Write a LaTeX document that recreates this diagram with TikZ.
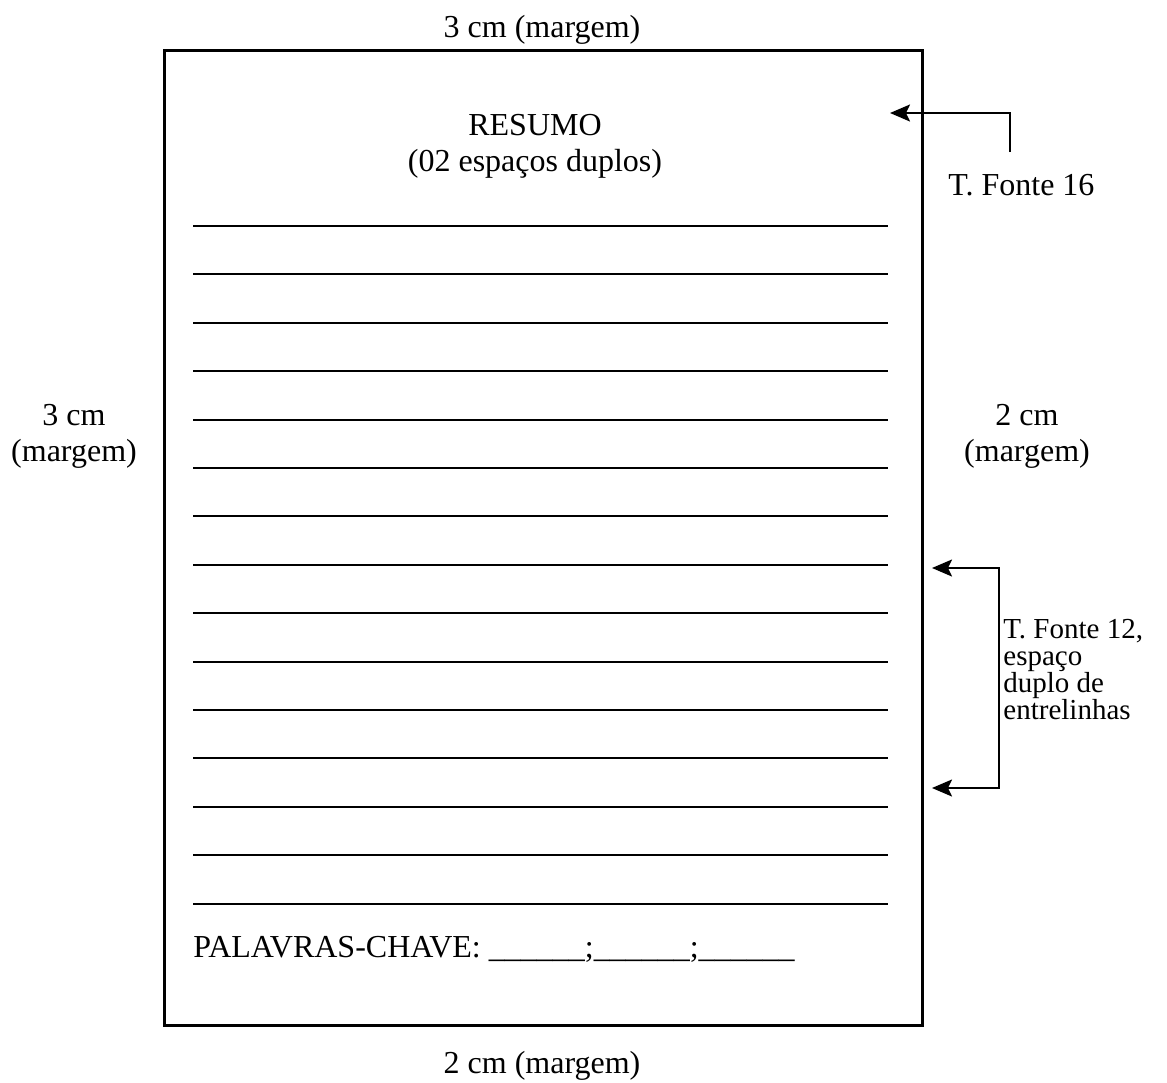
\documentclass[tikz,border=0pt]{standalone}
\usepackage{fontspec}
\setmainfont{Liberation Serif}
\usetikzlibrary{arrows.meta, positioning}

\begin{document}
\begin{tikzpicture}[
    x=0.5pt, y=-0.5pt,
    >={Stealth[length=10pt,width=8.5pt,inset=2pt]},
    every node/.style={font=\fontsize{16}{18}\selectfont, inner sep=0pt, align=center},
    page/.style={draw, line width=1.3pt},
    rule/.style={draw, line width=1pt},
    pointer/.style={draw, line width=1pt, ->},
    note/.style={font=\fontsize{14.5}{13.5}\selectfont, align=left, anchor=west}
]
    \useasboundingbox (0,0) rectangle (1167,1082);
    \node[page, minimum width=379pt, minimum height=487.5pt, anchor=north west] (folha) at (163,49) {};

    \node[anchor=base] (topo) at (542,37) {3 cm (margem)};
    \node[anchor=base] (rodape) at (542,1073) {2 cm (margem)};
    \node (esq) at (74,436) {3 cm\\(margem)};
    \node (dir) at (1027,436) {2 cm\\(margem)};
    \node (titulo) at (535,146) {RESUMO\\(02 espaços duplos)};

    \foreach \i in {0,...,14}
        \draw[rule] (193,226+48.4*\i) -- (888,226+48.4*\i);

    \node[anchor=base west] (chave) at (193,957) {PALAVRAS-CHAVE: \_\_\_\_\_\_;\_\_\_\_\_\_;\_\_\_\_\_\_};

    \node[anchor=base west] (fonte16) at (948,195) {T. Fonte 16};
    \coordinate (f16) at (1010,152);
    \coordinate (tit16) at (890,113);
    \draw[pointer] (f16) |- (tit16);

    \coordinate (l1) at (932,568);
    \coordinate (l2) at (932,788);
    \coordinate (chave12) at (999,678);
    \draw[pointer, <->] (l1) -| (chave12) |- (l2);
    \node[note] (fonte12) at (1003,670) {T. Fonte 12,\\espaço\\duplo de\\entrelinhas};
\end{tikzpicture}
\end{document}
